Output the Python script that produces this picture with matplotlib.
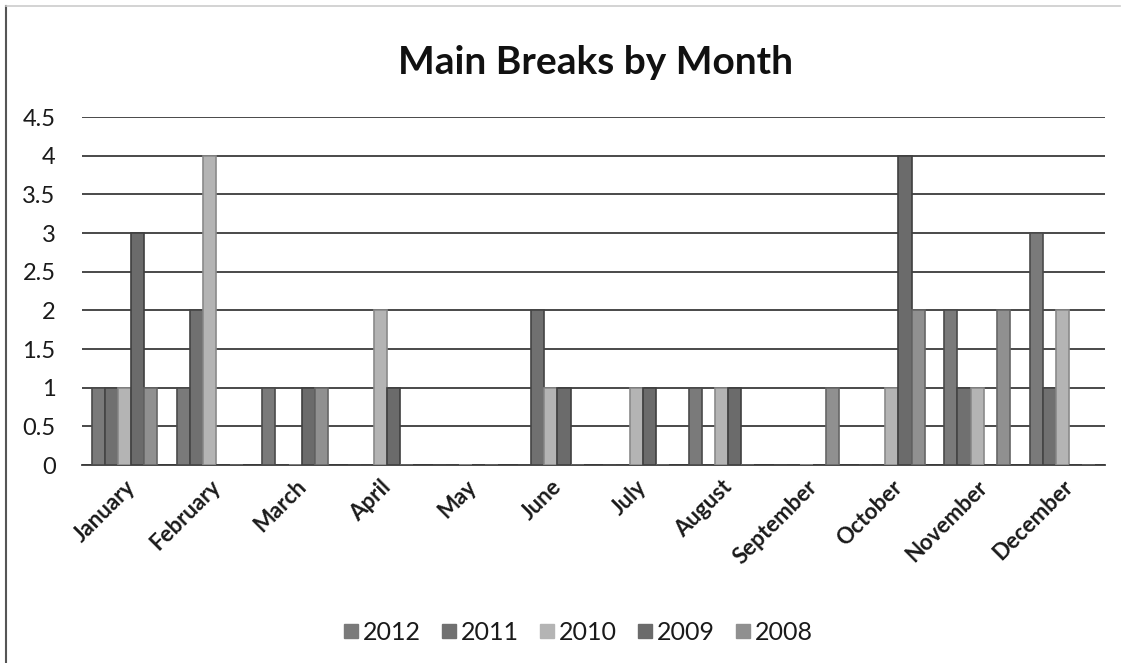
import matplotlib
matplotlib.use("Agg")
import matplotlib.pyplot as plt
import numpy as np
from matplotlib.lines import Line2D

plt.rcParams['font.family'] = ['Lato', 'DejaVu Sans']

months = ["January", "February", "March", "April", "May", "June", "July",
          "August", "September", "October", "November", "December"]
series_names = ["2012", "2011", "2010", "2009", "2008"]
v2012 = [1, 1, 1, 0, 0, 0, 0, 1, 0, 0, 2, 3]
v2011 = [1, 2, 0, 0, 0, 2, 0, 0, 0, 0, 1, 1]
v2010 = [1, 4, 0, 2, 0, 1, 1, 1, 0, 1, 1, 2]
v2009 = [3, 0, 1, 1, 0, 1, 1, 1, 0, 4, 0, 0]
v2008 = [1, 0, 1, 0, 0, 0, 0, 0, 1, 2, 2, 0]
values = [v2012, v2011, v2010, v2009, v2008]
colors = ["#7a7a7a", "#707070", "#b4b4b4", "#6b6b6b", "#909090"]
edges = ["#4a4a4a", "#444444", "#8a8a8a", "#3f3f3f", "#666666"]
ytick_labels = ["0", "0.5", "1", "1.5", "2", "2.5", "3", "3.5", "4", "4.5"]

fig = plt.figure(figsize=(11.24, 6.63), dpi=100)
ax = fig.add_axes([82/1124, 1-465/663, (1105-82)/1124, (465-117)/663])

n = len(series_names)
gap = 1.5
bw = 1.0 / (n + gap)
x = np.arange(len(months))
for i, (name, vals) in enumerate(zip(series_names, values)):
    off = -0.5 + gap * bw / 2 + bw * i + bw / 2
    ax.bar(x + off, vals, width=bw, color=colors[i], edgecolor=edges[i],
           linewidth=1.2, zorder=3)

ax.set_xlim(-0.5, len(months) - 0.5)
ax.set_ylim(0, 4.5)
ax.set_yticks(np.arange(0, 4.51, 0.5))
ax.set_yticklabels(ytick_labels)
ax.yaxis.grid(True, color="#3a3a3a", linewidth=1.3, zorder=1)
ax.set_axisbelow(True)
for s in ["top", "right", "left"]:
    ax.spines[s].set_visible(False)
ax.spines["bottom"].set_color("#3a3a3a")
ax.spines["bottom"].set_linewidth(1.3)
ax.tick_params(axis="y", length=0, pad=19, labelsize=17, labelcolor="#1a1a1a")
ax.tick_params(axis="x", length=0, pad=8)
ax.set_xticks(x)
ax.set_xticklabels(months, rotation=45, ha="right", va="top",
                   rotation_mode="anchor", fontsize=16, fontweight="bold",
                   color="#1a1a1a")

fig.text(596/1124, 1 - 62/663, "Main Breaks by Month", ha="center", va="center",
         fontsize=28, fontweight="bold", color="#111111")

handles = [Line2D([0], [0], marker="s", linestyle="none", markersize=10,
                  markerfacecolor=colors[i], markeredgecolor=colors[i])
           for i in range(n)]
fig.legend(handles, series_names, loc="center", bbox_to_anchor=(578/1124, 1 - 632/663),
           ncol=5, frameon=False, fontsize=18, handletextpad=0.2,
           columnspacing=0.8, handlelength=0.6, labelcolor="#1a1a1a")

# chart frame (left dark line, top light line)
fig.add_artist(Line2D([6/1124, 6/1124], [0, 1 - 6/663], color="#555555",
                      linewidth=1.5, transform=fig.transFigure))
fig.add_artist(Line2D([6/1124, 1120/1124], [1 - 6/663, 1 - 6/663], color="#cccccc",
                      linewidth=1.2, transform=fig.transFigure))

fig.savefig("out.png", dpi=100, facecolor="white")
